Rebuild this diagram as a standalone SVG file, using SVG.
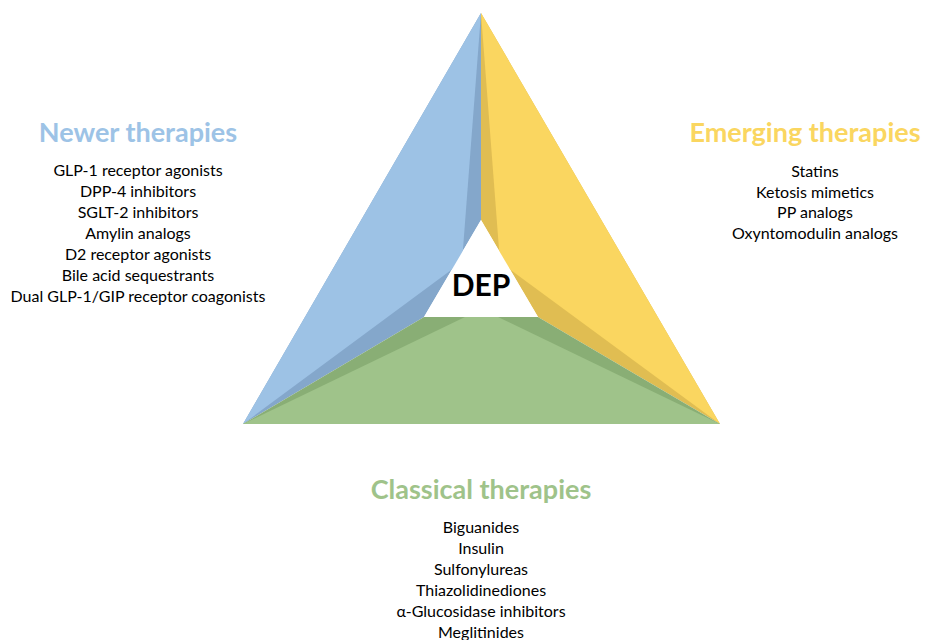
<svg xmlns="http://www.w3.org/2000/svg" width="933" height="640" viewBox="0 0 933 640">
  <style>
    .title { font-family: Lato, "Liberation Sans", sans-serif; font-weight: bold; font-size: 27px; text-anchor: middle; }
    .item { font-family: Lato, "Liberation Sans", sans-serif; font-size: 16px; fill: #000; text-anchor: middle; }
    .blue { fill: #9DC2E5; }
    .blue-dark { fill: #84A7CB; }
    .yellow { fill: #FAD660; }
    .yellow-dark { fill: #E0BD52; }
    .green { fill: #9FC38A; }
    .green-dark { fill: #89AE75; }
  </style>
  <rect width="933" height="640" fill="#fff"/>

  <!-- three faces of the triangle around the centre -->
  <g id="face-newer">
    <polygon class="blue-dark" points="481,13 481,220 424,317 243,424"/>
    <polygon class="blue" points="481,13 462,262 243,424"/>
  </g>
  <g id="face-emerging">
    <polygon class="yellow-dark" points="481,13 481,220 538,317 720,424"/>
    <polygon class="yellow" points="481,13 500,262 720,424"/>
  </g>
  <g id="face-classical">
    <polygon class="green-dark" points="243,424 424,317 538,317 720,424"/>
    <polygon class="green" points="243,424 465,317 498,317 720,424"/>
  </g>

  <!-- centre -->
  <g id="dep">
    <polygon fill="#fff" points="481,220 424,317 538,317"/>
    <text x="481" y="296" font-family="Lato, 'Liberation Sans', sans-serif" font-weight="bold" font-size="30" text-anchor="middle" fill="#000">DEP</text>
  </g>

  <g id="newer-therapies">
    <text class="title" x="138" y="142" fill="#9DC3E6">Newer therapies</text>
    <text class="item" x="138" y="176">GLP-1 receptor agonists</text>
    <text class="item" x="138" y="197">DPP-4 inhibitors</text>
    <text class="item" x="138" y="218">SGLT-2 inhibitors</text>
    <text class="item" x="138" y="239">Amylin analogs</text>
    <text class="item" x="138" y="260">D2 receptor agonists</text>
    <text class="item" x="138" y="281">Bile acid sequestrants</text>
    <text class="item" x="138" y="302">Dual GLP-1/GIP receptor coagonists</text>
  </g>

  <g id="emerging-therapies">
    <text class="title" x="805" y="142" fill="#FAD660">Emerging therapies</text>
    <text class="item" x="815" y="177">Statins</text>
    <text class="item" x="815" y="198">Ketosis mimetics</text>
    <text class="item" x="815" y="218">PP analogs</text>
    <text class="item" x="815" y="239">Oxyntomodulin analogs</text>
  </g>

  <g id="classical-therapies">
    <text class="title" x="481" y="499" fill="#9FC38A">Classical therapies</text>
    <text class="item" x="481" y="533">Biguanides</text>
    <text class="item" x="481" y="554">Insulin</text>
    <text class="item" x="481" y="575">Sulfonylureas</text>
    <text class="item" x="481" y="596">Thiazolidinediones</text>
    <text class="item" x="481" y="617">α-Glucosidase inhibitors</text>
    <text class="item" x="481" y="638">Meglitinides</text>
  </g>
</svg>
